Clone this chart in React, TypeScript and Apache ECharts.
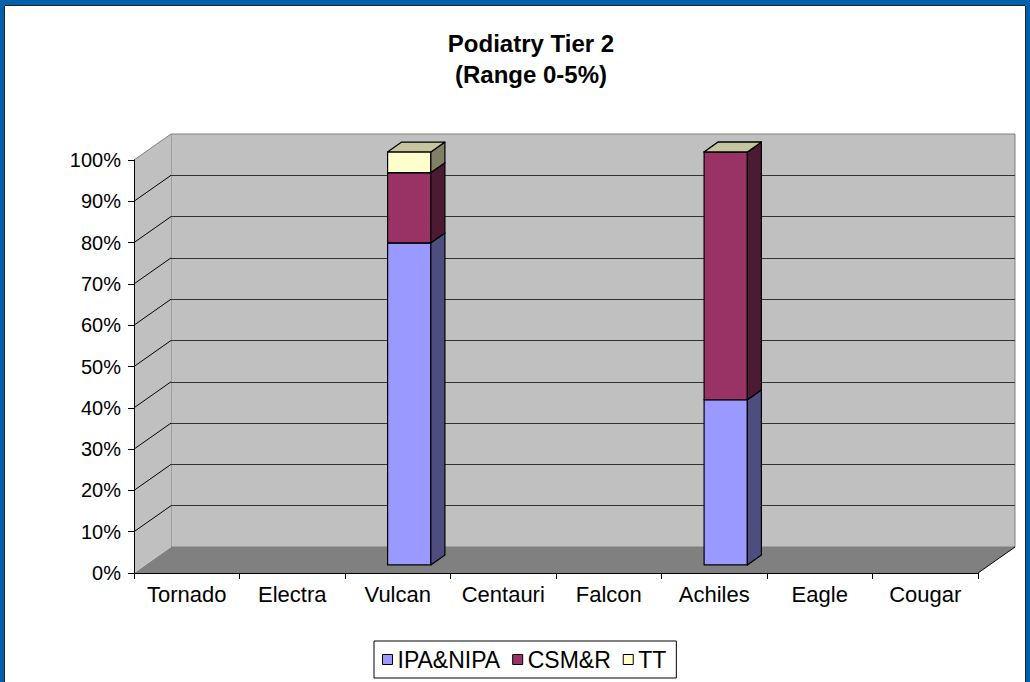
import React, { useEffect, useRef } from "react";
import * as echarts from "echarts";

const categories = ["Tornado", "Electra", "Vulcan", "Centauri", "Falcon", "Achiles", "Eagle", "Cougar"];
const seriesNames = ["IPA&NIPA", "CSM&R", "TT"];
const ipaNipa: (number | null)[] = [null, null, 0.78, null, null, 0.4, null, null];
const csmR: (number | null)[] = [null, null, 0.17, null, null, 0.6, null, null];
const tt: (number | null)[] = [null, null, 0.05, null, null, 0, null, null];
const titleText = "Podiatry Tier 2\n(Range 0-5%)";

const frontColors = ["#9999FF", "#993366", "#FFFFCC"];
const sideColors = ["#4D4D80", "#4D1A33", "#808066"];
const topColors = ["#7A7ACC", "#7A2952", "#C6C69E"];

const DX = 37;
const DY = -26;
const F1 = 0.31;
const F2 = 0.69;
const BAR_FRAC = 0.41;
const FONT = "Arial, 'Liberation Sans', sans-serif";

function buildStack() {
  const all = [ipaNipa, csmR, tt];
  const out: number[][][] = [[], [], []];
  for (let c = 0; c < categories.length; c++) {
    let base = 0;
    for (let s = 0; s < all.length; s++) {
      const v = all[s][c];
      if (v === null || v === undefined) continue;
      out[s].push([c, base, base + v]);
      base += v;
    }
  }
  return out;
}

export default function App() {
  const ref = useRef<HTMLDivElement>(null);
  useEffect(() => {
    if (!ref.current) return;
    const chart = echarts.init(ref.current, null, { renderer: "svg" });
    const stacks = buildStack();

    const wallsSeries: any = {
      type: "custom",
      name: "walls",
      xAxisIndex: 0,
      yAxisIndex: 0,
      clip: false,
      silent: true,
      z: 1,
      data: [[0, 0]],
      renderItem: (params: any, api: any) => {
        const cs = params.coordSys;
        const x0 = cs.x;
        const x1 = cs.x + cs.width;
        const yT = cs.y;
        const yB = cs.y + cs.height;
        const children: any[] = [
          {
            type: "polygon",
            shape: { points: [[x0, yB], [x1, yB], [x1 + DX, yB + DY], [x0 + DX, yB + DY]] },
            style: { fill: "#808080" },
          },
          {
            type: "polygon",
            shape: { points: [[x0, yB], [x0, yT], [x0 + DX, yT + DY], [x0 + DX, yB + DY]] },
            style: { fill: "#C0C0C0" },
          },
          {
            type: "line",
            shape: { x1: x0, y1: yT, x2: x0 + DX, y2: yT + DY },
            style: { stroke: "#808080", lineWidth: 1 },
          },
          {
            type: "line",
            shape: { x1: x1, y1: yB, x2: x1 + DX, y2: yB + DY },
            style: { stroke: "#000", lineWidth: 1 },
          },
        ];
        for (let i = 1; i < 10; i++) {
          const y = api.coord([0, i / 10])[1];
          children.push({
            type: "line",
            shape: { x1: x0, y1: y, x2: x0 + DX, y2: y + DY },
            style: { stroke: "#000", lineWidth: 1 },
          });
        }
        return { type: "group", children };
      },
    };

    const barSeries = seriesNames.map((name, s) => ({
      type: "custom",
      name,
      xAxisIndex: 0,
      yAxisIndex: 0,
      clip: false,
      z: 3,
      itemStyle: { color: frontColors[s] },
      encode: { x: 0, y: [1, 2] },
      data: stacks[s],
      renderItem: (params: any, api: any) => {
        const cat = api.value(0);
        const lo = api.value(1);
        const hi = api.value(2);
        const pLo = api.coord([cat, lo]);
        const pHi = api.coord([cat, hi]);
        const w = api.size([1, 0])[0] * BAR_FRAC;
        const ox = F1 * DX;
        const oy = F1 * DY;
        const ddx = (F2 - F1) * DX;
        const ddy = (F2 - F1) * DY;
        const xl = pLo[0] - w / 2 + ox;
        const xr = xl + w;
        const yb = pLo[1] + oy;
        const yt = pHi[1] + oy;
        const line = { stroke: "#000", lineWidth: 1.2, lineJoin: "round" };
        return {
          type: "group",
          children: [
            {
              type: "polygon",
              shape: { points: [[xl, yb], [xr, yb], [xr, yt], [xl, yt]] },
              style: { fill: frontColors[s], ...line },
            },
            {
              type: "polygon",
              shape: { points: [[xr, yb], [xr + ddx, yb + ddy], [xr + ddx, yt + ddy], [xr, yt]] },
              style: { fill: sideColors[s], ...line },
            },
            {
              type: "polygon",
              shape: { points: [[xl, yt], [xr, yt], [xr + ddx, yt + ddy], [xl + ddx, yt + ddy]] },
              style: { fill: topColors[s], ...line },
            },
          ],
        };
      },
    }));

    const option: any = {
      animation: false,
      backgroundColor: "#ffffff",
      title: {
        text: titleText,
        left: 526,
        top: 23,
        textAlign: "center",
        textStyle: { fontFamily: FONT, fontSize: 24, fontWeight: "bold", color: "#000", lineHeight: 31 },
      },
      legend: {
        data: seriesNames,
        left: 374,
        top: 641,
        orient: "horizontal",
        icon: "rect",
        itemWidth: 10,
        itemHeight: 10,
        itemGap: 12,
        padding: [7, 10, 7, 8],
        borderColor: "#000",
        borderWidth: 1,
        itemStyle: { borderColor: "#000", borderWidth: 1 },
        textStyle: { fontFamily: FONT, fontSize: 23, color: "#000" },
      },
      grid: [
        { left: 134, top: 160, width: 844, height: 413, containLabel: false },
        {
          left: 171,
          top: 134,
          width: 844,
          height: 413,
          show: true,
          backgroundColor: "#C0C0C0",
          borderColor: "#808080",
          borderWidth: 1,
          containLabel: false,
        },
      ],
      xAxis: [
        {
          type: "category",
          gridIndex: 0,
          data: categories,
          boundaryGap: true,
          z: 5,
          axisLine: { show: true, lineStyle: { color: "#000", width: 1 } },
          axisTick: { show: true, length: 6, lineStyle: { color: "#000" } },
          axisLabel: { fontFamily: FONT, fontSize: 22, color: "#000", margin: 10, interval: 0 },
          splitLine: { show: false },
        },
        { type: "value", gridIndex: 1, show: false, min: 0, max: 1 },
      ],
      yAxis: [
        {
          type: "value",
          gridIndex: 0,
          min: 0,
          max: 1,
          interval: 0.1,
          z: 5,
          axisLine: { show: true, lineStyle: { color: "#000", width: 1 } },
          axisTick: { show: true, length: 6, lineStyle: { color: "#000" } },
          axisLabel: {
            fontFamily: FONT,
            fontSize: 20,
            color: "#000",
            margin: 13,
            formatter: (v: number) => Math.round(v * 100) + "%",
          },
          splitLine: { show: false },
        },
        {
          type: "value",
          gridIndex: 1,
          min: 0,
          max: 1,
          interval: 0.1,
          axisLine: { show: false },
          axisTick: { show: false },
          axisLabel: { show: false },
          splitLine: { show: true, showMaxLine: false, lineStyle: { color: "#333", width: 1 } },
        },
      ],
      graphic: [
        { type: "rect", shape: { x: 0, y: 0, width: 1030, height: 5 }, style: { fill: "#0060AA" }, z: 100 },
        { type: "rect", shape: { x: 0, y: 0, width: 4, height: 682 }, style: { fill: "#0060AA" }, z: 100 },
        { type: "rect", shape: { x: 1026, y: 0, width: 4, height: 682 }, style: { fill: "#0060AA" }, z: 100 },
        {
          type: "rect",
          shape: { x: 4.5, y: 5.5, width: 1021, height: 700 },
          style: { fill: "none", stroke: "#222", lineWidth: 1 },
          z: 100,
        },
      ],
      series: [wallsSeries, ...barSeries],
    };
    chart.setOption(option);
    return () => chart.dispose();
  }, []);
  return (
    <div
      ref={ref}
      style={{ position: "fixed", left: 0, top: 0, width: 1030, height: 682, background: "#fff" }}
    />
  );
}
